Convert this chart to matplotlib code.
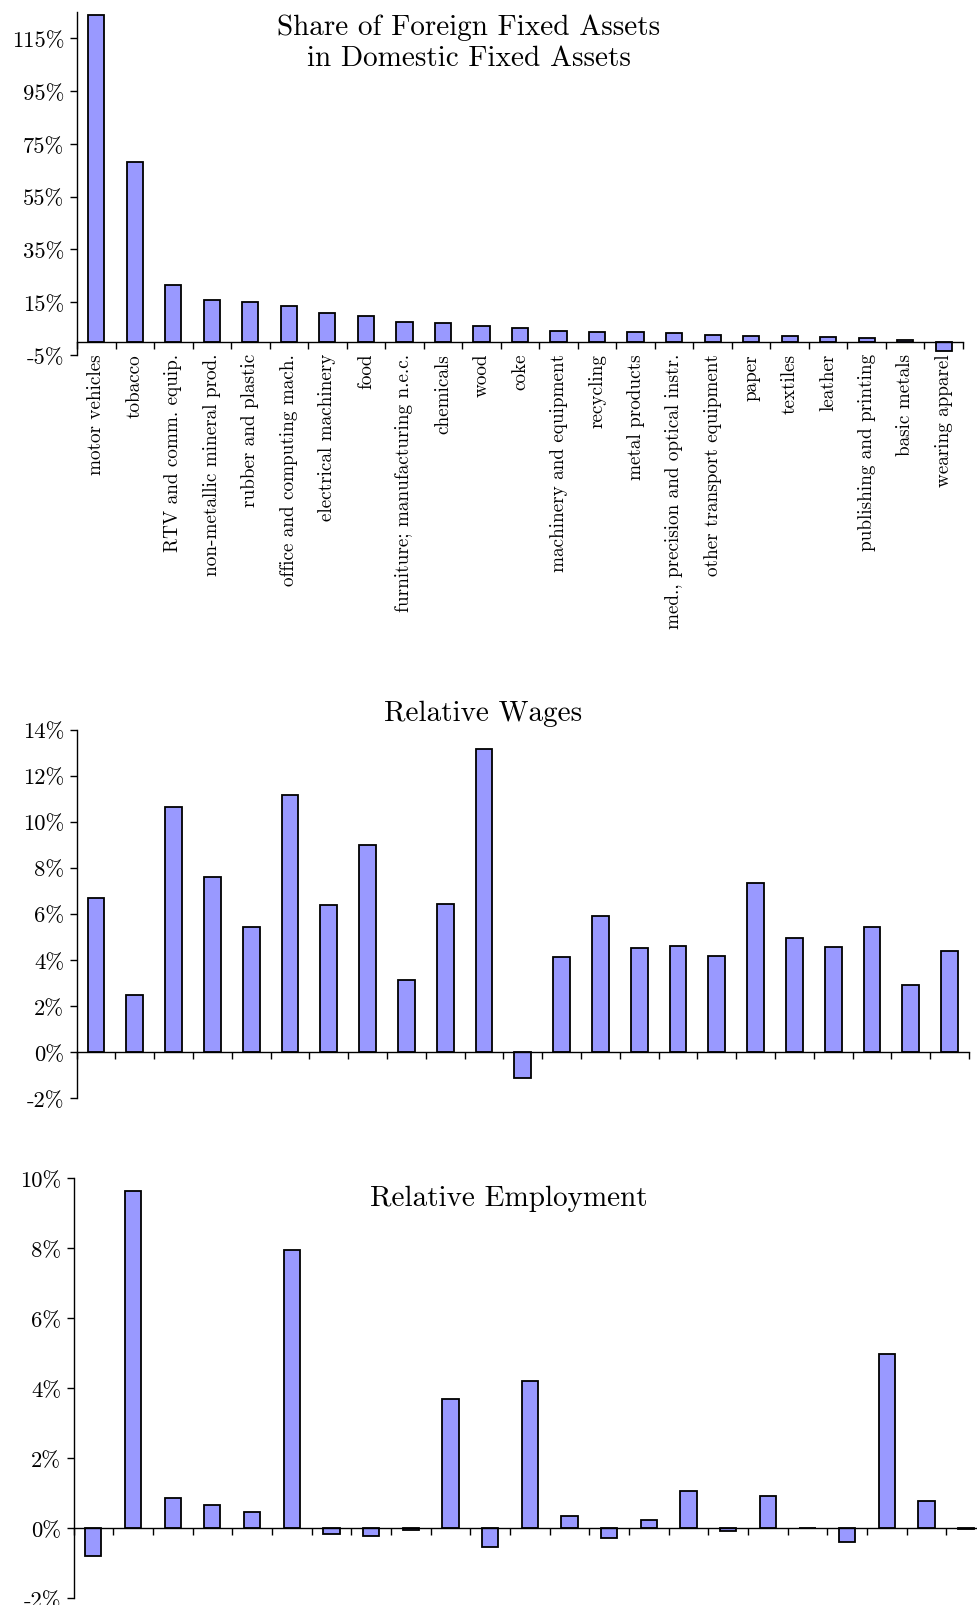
import matplotlib
matplotlib.use("Agg")
import matplotlib.pyplot as plt
import numpy as np
from matplotlib.ticker import FixedLocator, NullFormatter

# industries, same order in all three panels
industries = [
    "motor vehicles", "tobacco", "RTV and comm. equip.", "non-metallic mineral prod.",
    "rubber and plastic", "office and computing mach.", "electrical machinery", "food",
    "furniture; manufacturing n.e.c.", "chemicals", "wood", "coke",
    "machinery and equipment", "recycling", "metal products",
    "med., precision and optical instr.", "other transport equipment", "paper",
    "textiles", "leather", "publishing and printing", "basic metals", "wearing apparel",
]

# values in percent
foreign_share = [124.0, 68.0, 21.6, 15.8, 15.2, 13.7, 10.9, 9.6, 7.4, 7.3, 6.1, 5.1,
                 4.2, 3.9, 3.6, 3.2, 2.7, 2.3, 2.2, 2.0, 1.6, 0.6, -3.5]
rel_wages = [6.67, 2.48, 10.64, 7.58, 5.42, 11.16, 6.38, 9.0, 3.14, 6.43, 13.16, -1.14,
             4.12, 5.9, 4.52, 4.59, 4.17, 7.36, 4.96, 4.54, 5.45, 2.93, 4.39]
rel_employment = [-0.79, 9.63, 0.87, 0.67, 0.47, 7.95, -0.18, -0.24, -0.05, 3.69, -0.54,
                  4.21, 0.33, -0.29, 0.22, 1.05, -0.08, 0.91, 0.01, -0.41, 4.97, 0.78, -0.03]

top_ticks = [-5, 15, 35, 55, 75, 95, 115]
wage_ticks = [-2, 0, 2, 4, 6, 8, 10, 12, 14]
emp_ticks = [-2, 0, 2, 4, 6, 8, 10]

plt.rcParams['font.family'] = ['cmr10', 'DejaVu Serif']

W, H = 977, 1606
fig = plt.figure(figsize=(W / 100, H / 100), dpi=100)

BAR_COLOR = '#9999ff'
TITLE_SIZE = 21


def px_axes(x0, x1, ytop, ybot):
    return fig.add_axes([x0 / W, 1 - ybot / H, (x1 - x0) / W, (ybot - ytop) / H])


def style_panel(ax, values, ylim, yticks, width, labels=None):
    n = len(values)
    x = np.arange(n)
    ax.bar(x, values, width=width, color=BAR_COLOR, edgecolor='black', linewidth=1.3, zorder=3)
    ax.set_xlim(-0.5, n - 0.5)
    ax.set_ylim(*ylim)
    for s in ('top', 'right'):
        ax.spines[s].set_visible(False)
    ax.spines['bottom'].set_position(('data', 0))
    ax.spines['bottom'].set_linewidth(1.0)
    ax.spines['left'].set_linewidth(1.0)
    ax.spines['bottom'].set_zorder(4)

    # category borders carry the tick marks, names sit under the bars
    ax.xaxis.set_major_locator(FixedLocator(np.arange(n + 1) - 0.5))
    ax.xaxis.set_major_formatter(NullFormatter())
    ax.tick_params(axis='x', which='major', direction='out', length=5, width=1.0)
    if labels is not None:
        ax.xaxis.set_minor_locator(FixedLocator(x))
        ax.set_xticks(x, labels, minor=True, rotation=90, fontsize=13.8)
        ax.tick_params(axis='x', which='minor', length=0, pad=8)
        for t in ax.get_xticklabels(minor=True):
            t.set_va('top')

    ax.set_yticks(yticks)
    ax.set_yticklabels([f"{v}%" for v in yticks], fontsize=16.3)
    ax.tick_params(axis='y', direction='out', length=5, width=1.0, pad=4)


ax1 = px_axes(77, 963, 13, 356)
style_panel(ax1, foreign_share, (-5, 125), top_ticks, 0.42, labels=industries)
fig.text(469 / W, 1 - 28 / H, "Share of Foreign Fixed Assets", ha='center', va='center', fontsize=TITLE_SIZE)
fig.text(469 / W, 1 - 59 / H, "in Domestic Fixed Assets", ha='center', va='center', fontsize=TITLE_SIZE)

ax2 = px_axes(76.6, 969, 730.7, 1099)
style_panel(ax2, rel_wages, (-2, 14), wage_ticks, 0.43)
fig.text(483 / W, 1 - 714 / H, "Relative Wages", ha='center', va='center', fontsize=TITLE_SIZE)

ax3 = px_axes(73.5, 986, 1179, 1599)
style_panel(ax3, rel_employment, (-2, 10), emp_ticks, 0.41)
fig.text(509 / W, 1 - 1199 / H, "Relative Employment", ha='center', va='center', fontsize=TITLE_SIZE)

fig.savefig("out.png", dpi=100)
